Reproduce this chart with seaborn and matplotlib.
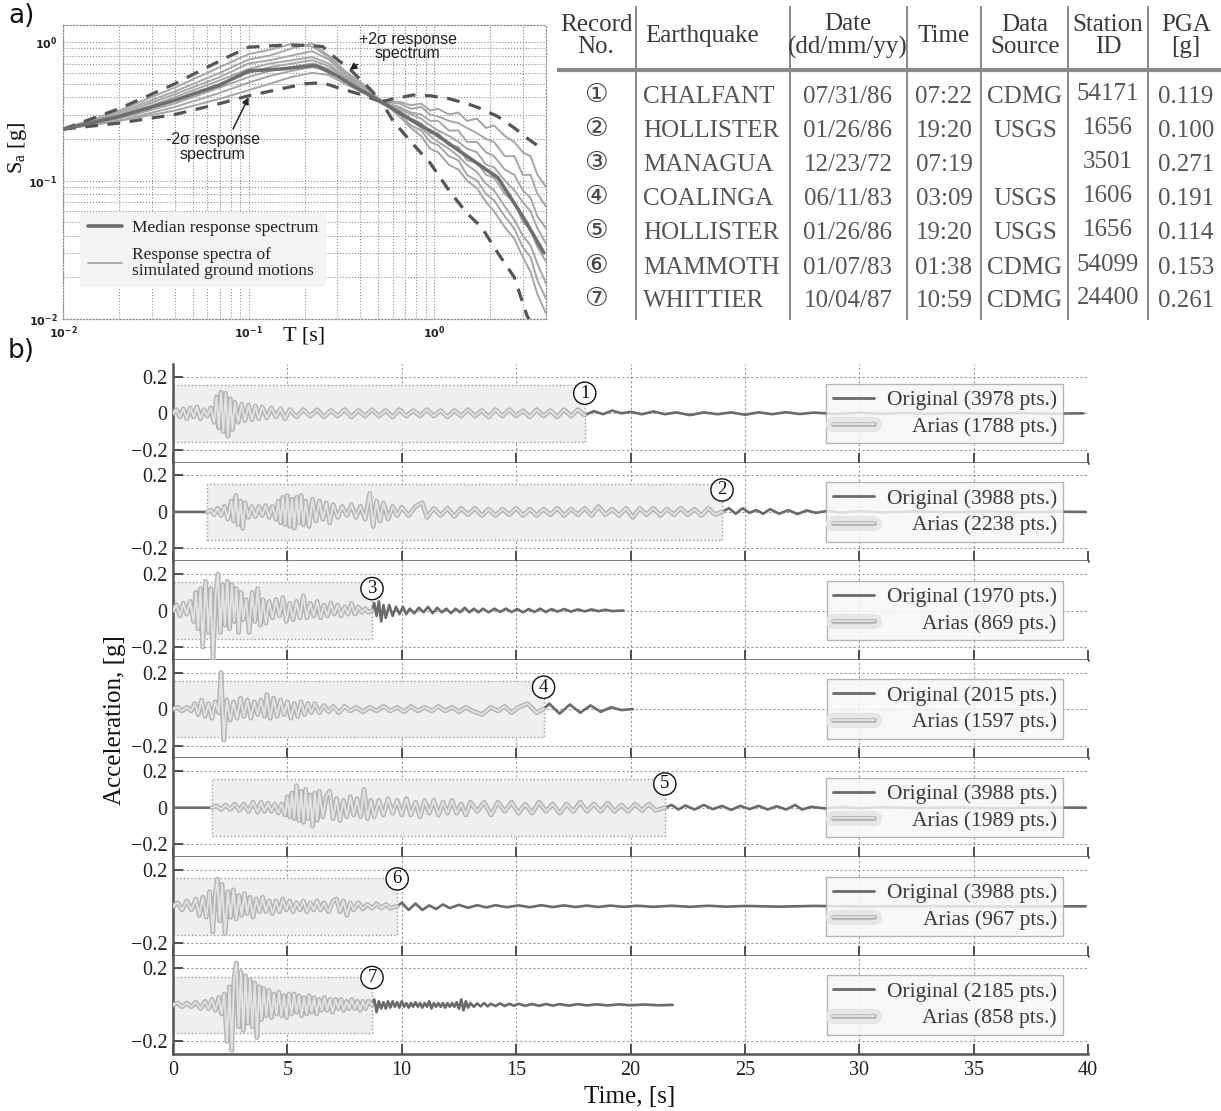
import matplotlib
matplotlib.use("Agg")
import numpy as np
import pandas as pd
import matplotlib.pyplot as plt
import seaborn as sns
from matplotlib import patheffects as pe
from matplotlib.lines import Line2D
from matplotlib.patches import Rectangle
from matplotlib.ticker import NullFormatter, LogLocator

# ---------------- data: panel a (response spectra) ----------------
periods_med = [0.01, 0.02, 0.04, 0.07, 0.1, 0.15, 0.23, 0.3, 0.4, 0.52, 0.7, 1.0, 1.5, 2.2, 3.0, 3.9]
median_sa = [0.235, 0.29, 0.38, 0.49, 0.62, 0.64, 0.68, 0.57, 0.45, 0.37, 0.29, 0.22, 0.15, 0.105, 0.055, 0.03]

periods_plus = [0.01, 0.02, 0.04, 0.06, 0.08, 0.1, 0.15, 0.2, 0.25, 0.3, 0.35, 0.45, 0.52,
                0.6, 0.77, 0.95, 1.2, 1.5, 1.8, 2.2, 2.7, 3.2, 3.9]
plus2_sa = [0.235, 0.33, 0.50, 0.66, 0.80, 0.92, 0.95, 0.95, 0.93, 0.75, 0.64, 0.46, 0.37,
            0.39, 0.415, 0.41, 0.39, 0.36, 0.33, 0.29, 0.24, 0.20, 0.166]

periods_minus = [0.01, 0.02, 0.04, 0.07, 0.1, 0.15, 0.2, 0.25, 0.3, 0.4, 0.52,
                 0.6, 0.75, 0.95, 1.2, 1.5, 1.8, 2.2, 2.7, 3.15, 3.5, 4.0]
minus2_sa = [0.235, 0.26, 0.30, 0.36, 0.41, 0.46, 0.50, 0.51, 0.47, 0.42, 0.37,
             0.27, 0.19, 0.134, 0.085, 0.058, 0.046, 0.03, 0.02, 0.0107, 0.008, 0.006]

periods_sim = [0.01, 0.02, 0.04, 0.07, 0.1, 0.13, 0.17, 0.22, 0.27, 0.33, 0.42, 0.52, 0.65, 0.75, 0.85,
               0.95, 1.05, 1.2, 1.35, 1.5, 1.7, 1.9, 2.1, 2.4, 2.7, 3.0, 3.3, 3.6, 4.0]
sim_1 = [0.235, 0.32, 0.47, 0.66, 0.82, 0.88, 0.97, 0.93, 0.78, 0.60, 0.47, 0.38, 0.37, 0.35, 0.36,
         0.32, 0.33, 0.30, 0.31, 0.27, 0.28, 0.24, 0.25, 0.21, 0.19, 0.16, 0.15, 0.11, 0.09]
sim_2 = [0.235, 0.31, 0.44, 0.60, 0.75, 0.80, 0.90, 0.98, 0.80, 0.62, 0.49, 0.37, 0.36, 0.33, 0.34,
         0.30, 0.29, 0.27, 0.26, 0.24, 0.22, 0.20, 0.19, 0.15, 0.15, 0.11, 0.11, 0.08, 0.065]
sim_3 = [0.235, 0.30, 0.42, 0.56, 0.70, 0.74, 0.80, 0.86, 0.75, 0.58, 0.46, 0.37, 0.34, 0.31, 0.30,
         0.27, 0.27, 0.23, 0.23, 0.19, 0.19, 0.16, 0.15, 0.12, 0.11, 0.085, 0.075, 0.055, 0.045]
sim_4 = [0.235, 0.29, 0.40, 0.53, 0.64, 0.70, 0.74, 0.78, 0.70, 0.56, 0.45, 0.36, 0.33, 0.30, 0.28,
         0.25, 0.23, 0.21, 0.19, 0.17, 0.16, 0.13, 0.125, 0.10, 0.085, 0.07, 0.06, 0.045, 0.035]
sim_5 = [0.235, 0.29, 0.38, 0.50, 0.60, 0.66, 0.70, 0.74, 0.67, 0.55, 0.45, 0.37, 0.32, 0.28, 0.26,
         0.22, 0.22, 0.18, 0.175, 0.14, 0.135, 0.11, 0.105, 0.08, 0.07, 0.05, 0.045, 0.033, 0.026]
sim_6 = [0.235, 0.28, 0.36, 0.47, 0.56, 0.62, 0.66, 0.70, 0.64, 0.53, 0.44, 0.36, 0.31, 0.27, 0.24,
         0.21, 0.19, 0.17, 0.15, 0.13, 0.115, 0.095, 0.085, 0.065, 0.052, 0.04, 0.034, 0.025, 0.018]
sim_7 = [0.235, 0.27, 0.34, 0.43, 0.51, 0.57, 0.62, 0.66, 0.62, 0.52, 0.44, 0.37, 0.30, 0.25, 0.23,
         0.19, 0.18, 0.15, 0.14, 0.11, 0.10, 0.08, 0.072, 0.055, 0.045, 0.033, 0.028, 0.019, 0.014]
sim_8 = [0.235, 0.27, 0.32, 0.39, 0.45, 0.50, 0.56, 0.60, 0.58, 0.50, 0.43, 0.38, 0.29, 0.24, 0.21,
         0.17, 0.16, 0.13, 0.12, 0.10, 0.088, 0.07, 0.06, 0.046, 0.038, 0.028, 0.022, 0.015, 0.011]
sim_spectra = [sim_1, sim_2, sim_3, sim_4, sim_5, sim_6, sim_7, sim_8]

# ---------------- data: table ----------------
record_no = ["①", "②", "③", "④", "⑤", "⑥", "⑦"]
quake = ["CHALFANT", "HOLLISTER", "MANAGUA", "COALINGA", "HOLLISTER", "MAMMOTH", "WHITTIER"]
dates = ["07/31/86", "01/26/86", "12/23/72", "06/11/83", "01/26/86", "01/07/83", "10/04/87"]
times = ["07:22", "19:20", "07:19", "03:09", "19:20", "01:38", "10:59"]
sources = ["CDMG", "USGS", "", "USGS", "USGS", "CDMG", "CDMG"]
stations = ["54171", "1656", "3501", "1606", "1656", "54099", "24400"]
pga = ["0.119", "0.100", "0.271", "0.191", "0.114", "0.153", "0.261"]
headers = ["Record\nNo.", "Earthquake", "Date\n(dd/mm/yy)", "Time", "Data\nSource", "Station\nID", "PGA\n[g]"]

# ---------------- data: panel b (accelerograms, (t [s], a [g]) peaks) ----------------
rec1 = [(0, 0), (0.15, 0.02), (0.3, -0.02), (0.45, 0.025), (0.6, -0.03), (0.75, 0.03), (0.9, -0.02), (1.05, 0.035),
        (1.2, -0.03), (1.35, 0.02), (1.5, -0.015), (1.65, 0.03), (1.8, -0.05), (1.9, 0.09), (2.0, -0.08), (2.1, 0.115),
        (2.2, -0.1), (2.3, 0.11), (2.4, -0.125), (2.5, 0.08), (2.6, -0.09), (2.7, 0.06), (2.85, -0.05), (3.0, 0.05),
        (3.15, -0.04), (3.3, 0.045), (3.45, -0.035), (3.6, 0.04), (3.75, -0.03), (3.9, 0.035), (4.1, -0.025), (4.3, 0.03),
        (4.5, -0.02), (4.7, 0.025), (4.9, -0.03), (5.1, 0.02), (5.4, -0.02), (5.7, 0.02), (6.0, -0.015), (6.3, 0.02),
        (6.6, -0.02), (6.9, 0.015), (7.2, -0.015), (7.5, 0.02), (7.8, -0.02), (8.1, 0.015), (8.4, -0.015), (8.7, 0.02),
        (9.0, -0.015), (9.3, 0.015), (9.6, -0.02), (9.9, 0.02), (10.2, -0.015), (10.5, 0.015), (10.8, -0.015), (11.1, 0.02),
        (11.4, -0.015), (11.7, 0.015), (12.0, -0.02), (12.3, 0.015), (12.6, -0.015), (12.9, 0.02), (13.2, -0.015),
        (13.5, 0.015), (13.8, -0.02), (14.1, 0.02), (14.4, -0.015), (14.7, 0.02), (15.0, -0.015), (15.3, 0.015),
        (15.6, -0.02), (15.9, 0.02), (16.2, -0.015), (16.5, 0.015), (16.8, -0.02), (17.1, 0.02), (17.4, -0.015),
        (17.7, 0.02), (18.0, -0.01), (18.4, 0.012), (18.8, -0.005), (19.2, 0.015), (19.6, 0.0), (20.0, 0.008),
        (20.5, -0.005), (21.0, 0.01), (21.5, -0.005), (22.0, 0.005), (22.6, -0.01), (23.2, 0.005), (23.8, -0.005),
        (24.4, 0.005), (25.0, -0.008), (25.6, 0.005), (26.2, -0.005), (26.8, 0.006), (27.4, -0.004), (28.0, 0.004),
        (29.0, -0.004), (30.0, 0.004), (31.0, -0.003), (32.0, 0.003), (33.0, -0.003), (34.0, 0.003), (35.5, -0.002),
        (37.0, 0.002), (38.5, -0.002), (39.8, 0.0)]
rec2 = [(0, 0), (1.5, 0), (1.65, 0.01), (1.8, -0.015), (1.95, 0.02), (2.1, -0.02), (2.25, 0.03), (2.4, -0.04),
        (2.55, 0.06), (2.65, -0.05), (2.75, 0.09), (2.85, -0.07), (2.95, 0.06), (3.05, -0.09), (3.15, 0.05), (3.3, -0.03),
        (3.45, 0.03), (3.6, -0.025), (3.75, 0.03), (3.9, -0.02), (4.05, 0.035), (4.2, -0.03), (4.35, 0.03), (4.5, -0.04),
        (4.6, 0.06), (4.7, -0.06), (4.8, 0.08), (4.9, -0.07), (5.0, 0.09), (5.1, -0.08), (5.2, 0.07), (5.3, -0.09),
        (5.4, 0.08), (5.5, -0.06), (5.6, 0.09), (5.7, -0.07), (5.8, 0.06), (5.95, -0.08), (6.1, 0.07), (6.25, -0.05),
        (6.4, 0.06), (6.55, -0.04), (6.7, 0.05), (6.85, -0.06), (7.0, 0.04), (7.2, -0.03), (7.4, 0.03), (7.6, -0.02),
        (7.8, 0.04), (8.0, -0.03), (8.2, 0.03), (8.4, -0.04), (8.6, 0.1), (8.75, -0.08), (8.9, 0.06), (9.05, -0.05),
        (9.2, 0.05), (9.4, -0.04), (9.6, 0.03), (9.8, -0.02), (10.0, 0.025), (10.3, -0.02), (10.6, 0.03), (10.9, 0.05),
        (11.1, -0.03), (11.4, 0.02), (11.7, -0.02), (12.0, 0.02), (12.3, -0.025), (12.6, 0.02), (12.9, -0.015),
        (13.2, 0.02), (13.5, -0.02), (13.8, 0.015), (14.1, -0.02), (14.4, 0.015), (14.7, -0.015), (15.0, 0.02),
        (15.3, -0.02), (15.6, 0.015), (15.9, -0.02), (16.2, 0.015), (16.5, -0.015), (16.8, 0.02), (17.1, -0.02),
        (17.4, 0.015), (17.7, -0.015), (18.0, 0.02), (18.3, -0.02), (18.6, 0.03), (18.9, -0.015), (19.2, 0.015),
        (19.5, -0.02), (19.8, 0.02), (20.1, -0.03), (20.4, 0.02), (20.7, -0.015), (21.0, 0.02), (21.3, -0.02),
        (21.6, 0.015), (21.9, -0.015), (22.2, 0.02), (22.5, -0.015), (22.8, 0.015), (23.1, -0.02), (23.4, 0.02),
        (23.7, -0.015), (24.0, 0.0), (24.3, 0.02), (24.6, -0.01), (24.9, 0.02), (25.2, -0.005), (25.5, 0.01),
        (25.8, -0.01), (26.1, 0.015), (26.5, -0.01), (26.9, 0.01), (27.3, -0.012), (27.7, 0.008), (28.1, -0.005),
        (28.6, 0.005), (29.2, -0.004), (30.0, 0.004), (31.0, -0.003), (32.5, 0.003), (34.0, -0.002), (35.5, 0.002),
        (37.0, -0.002), (38.5, 0.001), (39.9, 0.0)]
rec3 = [(0, 0), (0.15, 0.03), (0.3, -0.03), (0.45, 0.04), (0.6, -0.02), (0.75, 0.05), (0.9, -0.06), (1.0, 0.1),
        (1.1, -0.1), (1.2, 0.12), (1.3, -0.2), (1.42, 0.16), (1.55, -0.12), (1.65, 0.12), (1.75, -0.27), (1.87, 0.1),
        (1.97, 0.2), (2.07, -0.12), (2.17, 0.14), (2.27, -0.08), (2.37, 0.16), (2.47, -0.1), (2.57, 0.14), (2.67, -0.06),
        (2.77, 0.12), (2.87, -0.12), (2.97, 0.1), (3.07, -0.05), (3.2, 0.06), (3.33, -0.12), (3.46, 0.1), (3.58, -0.06),
        (3.7, 0.12), (3.82, -0.08), (3.94, 0.06), (4.06, -0.07), (4.2, 0.05), (4.35, -0.04), (4.5, 0.06), (4.65, -0.03),
        (4.8, 0.07), (4.95, -0.06), (5.1, 0.04), (5.25, -0.05), (5.4, 0.05), (5.55, -0.04), (5.7, 0.08), (5.85, -0.04),
        (6.0, 0.04), (6.15, -0.03), (6.3, 0.05), (6.45, -0.04), (6.6, 0.03), (6.75, -0.03), (6.9, 0.04), (7.05, -0.02),
        (7.2, 0.03), (7.35, -0.03), (7.5, 0.02), (7.65, -0.02), (7.8, 0.04), (7.95, -0.02), (8.1, 0.02), (8.25, -0.01),
        (8.4, 0.01), (8.55, -0.01), (8.7, 0.0), (8.8, 0.04), (8.9, -0.03), (9.0, 0.05), (9.1, -0.06), (9.2, 0.03),
        (9.3, -0.04), (9.45, 0.03), (9.6, -0.03), (9.75, 0.02), (9.9, -0.02), (10.05, 0.02), (10.2, -0.02), (10.35, 0.01),
        (10.55, -0.015), (10.75, 0.015), (10.95, -0.01), (11.15, 0.02), (11.35, -0.015), (11.55, 0.015), (11.75, -0.01),
        (11.95, 0.01), (12.15, -0.015), (12.35, 0.01), (12.55, -0.01), (12.75, 0.015), (12.95, -0.01), (13.15, 0.01),
        (13.35, -0.01), (13.55, 0.01), (13.8, -0.01), (14.05, 0.01), (14.3, -0.008), (14.55, 0.01), (14.8, -0.008),
        (15.05, 0.008), (15.3, -0.01), (15.55, 0.008), (15.8, -0.008), (16.05, 0.01), (16.3, -0.008), (16.55, 0.008),
        (16.8, -0.006), (17.1, 0.008), (17.4, -0.006), (17.7, 0.006), (18.0, -0.005), (18.3, 0.006), (18.6, -0.004),
        (18.9, 0.004), (19.2, -0.003), (19.7, 0.0)]
rec4 = [(0, 0), (0.2, 0.01), (0.4, -0.01), (0.6, 0.01), (0.8, -0.01), (0.95, 0.03), (1.1, -0.03), (1.25, 0.05),
        (1.4, -0.04), (1.55, 0.03), (1.7, -0.05), (1.85, 0.04), (2.0, -0.02), (2.1, 0.2), (2.22, -0.17), (2.35, 0.05),
        (2.5, -0.06), (2.65, 0.04), (2.8, -0.05), (2.95, 0.06), (3.1, -0.04), (3.25, 0.05), (3.4, -0.05), (3.55, 0.04),
        (3.7, -0.03), (3.85, 0.05), (4.0, -0.04), (4.1, 0.08), (4.25, -0.05), (4.4, 0.06), (4.55, -0.04), (4.7, 0.05),
        (4.85, -0.03), (5.0, 0.04), (5.15, -0.05), (5.3, 0.03), (5.45, -0.04), (5.6, 0.04), (5.75, -0.03), (5.9, 0.03),
        (6.05, -0.02), (6.2, 0.03), (6.4, -0.02), (6.6, 0.02), (6.8, -0.015), (7.0, 0.015), (7.25, -0.02), (7.5, 0.015),
        (7.75, -0.01), (8.0, 0.01), (8.3, -0.015), (8.6, 0.01), (8.9, -0.01), (9.2, 0.015), (9.5, -0.01), (9.8, 0.01),
        (10.1, -0.015), (10.4, 0.015), (10.7, -0.01), (11.0, 0.01), (11.3, -0.01), (11.6, 0.015), (11.9, -0.01),
        (12.2, 0.01), (12.5, -0.015), (12.8, 0.01), (13.1, -0.01), (13.5, -0.03), (13.9, 0.01), (14.2, -0.01),
        (14.5, 0.015), (14.8, -0.02), (15.1, 0.01), (15.5, 0.03), (15.9, -0.02), (16.2, 0.0), (16.45, 0.03),
        (16.9, -0.025), (17.35, 0.025), (17.8, -0.02), (18.25, 0.02), (18.7, -0.015), (19.15, 0.01), (19.6, -0.005),
        (20.1, 0.0)]
rec5 = [(0, 0), (1.7, 0), (1.9, 0.01), (2.1, -0.01), (2.3, 0.015), (2.5, -0.01), (2.7, 0.02), (2.9, -0.015),
        (3.1, 0.02), (3.3, -0.02), (3.5, 0.03), (3.7, -0.025), (3.85, 0.03), (4.0, -0.02), (4.15, 0.025), (4.3, -0.02),
        (4.45, 0.02), (4.6, -0.03), (4.75, 0.02), (4.9, -0.04), (5.0, 0.06), (5.1, -0.05), (5.2, 0.08), (5.3, -0.06),
        (5.4, 0.12), (5.5, -0.07), (5.6, 0.09), (5.7, -0.08), (5.8, 0.1), (5.9, -0.06), (6.0, 0.07), (6.1, -0.1),
        (6.2, 0.08), (6.3, -0.07), (6.4, 0.09), (6.55, -0.05), (6.7, 0.06), (6.85, 0.09), (7.0, -0.06), (7.15, 0.05),
        (7.3, -0.07), (7.45, 0.04), (7.6, -0.05), (7.75, 0.06), (7.9, -0.04), (8.05, 0.05), (8.2, -0.05), (8.35, 0.1),
        (8.5, -0.06), (8.65, 0.04), (8.8, -0.05), (9.0, 0.04), (9.2, -0.04), (9.4, 0.05), (9.6, -0.03), (9.8, 0.04),
        (10.0, -0.04), (10.2, 0.05), (10.4, -0.04), (10.6, 0.03), (10.8, -0.05), (11.0, 0.04), (11.2, -0.03),
        (11.4, 0.04), (11.6, -0.04), (11.8, 0.03), (12.0, -0.03), (12.2, 0.04), (12.4, -0.03), (12.6, 0.02),
        (12.8, -0.04), (13.0, 0.03), (13.3, -0.02), (13.6, 0.03), (13.9, -0.04), (14.2, 0.03), (14.5, -0.02),
        (14.8, 0.03), (15.1, -0.03), (15.4, 0.02), (15.7, -0.03), (16.0, 0.03), (16.3, -0.02), (16.6, 0.02),
        (16.9, -0.03), (17.2, 0.02), (17.5, -0.02), (17.8, 0.03), (18.1, -0.02), (18.4, 0.02), (18.7, -0.02),
        (19.0, 0.025), (19.3, -0.02), (19.6, 0.015), (19.9, -0.02), (20.2, 0.02), (20.5, -0.015), (20.8, 0.02),
        (21.1, -0.015), (21.5, 0.0), (21.8, 0.015), (22.1, -0.01), (22.4, 0.012), (22.8, -0.01), (23.2, 0.015),
        (23.6, -0.008), (24.0, 0.01), (24.4, -0.012), (24.8, 0.01), (25.2, -0.008), (25.6, 0.01), (26.0, -0.01),
        (26.4, 0.008), (26.8, -0.01), (27.2, 0.015), (27.5, -0.01), (27.9, 0.005), (28.5, -0.004), (29.2, 0.004),
        (30.0, -0.003), (31.0, 0.003), (32.5, -0.002), (34.0, 0.002), (36.0, -0.002), (38.0, 0.001), (39.9, 0.0)]
rec6 = [(0, 0), (0.2, 0.02), (0.4, -0.02), (0.6, 0.03), (0.8, -0.02), (1.0, 0.04), (1.15, -0.05), (1.3, 0.05),
        (1.45, -0.06), (1.6, 0.08), (1.74, -0.14), (1.84, 0.06), (1.94, 0.15), (2.04, -0.08), (2.14, 0.12),
        (2.28, -0.15), (2.4, 0.08), (2.52, -0.06), (2.64, 0.09), (2.76, -0.07), (2.88, 0.06), (3.0, -0.05), (3.12, 0.07),
        (3.24, -0.04), (3.36, 0.05), (3.5, -0.06), (3.64, 0.04), (3.78, -0.03), (3.92, 0.05), (4.06, -0.03), (4.2, 0.03),
        (4.35, -0.04), (4.5, 0.03), (4.65, -0.03), (4.8, 0.04), (4.95, -0.02), (5.1, 0.03), (5.25, -0.03), (5.4, 0.02),
        (5.55, -0.02), (5.7, 0.03), (5.85, -0.03), (6.0, 0.02), (6.15, -0.02), (6.3, 0.03), (6.45, -0.02), (6.6, 0.02),
        (6.8, -0.03), (7.0, 0.03), (7.15, 0.04), (7.3, -0.03), (7.45, 0.03), (7.6, -0.05), (7.75, 0.02), (7.9, -0.02),
        (8.1, 0.02), (8.3, -0.015), (8.5, 0.01), (8.7, -0.01), (8.9, 0.015), (9.1, -0.01), (9.3, 0.01), (9.5, -0.01),
        (9.8, 0.0), (10.0, 0.02), (10.3, -0.02), (10.6, 0.015), (10.9, -0.02), (11.2, 0.005), (11.5, -0.015),
        (11.8, 0.01), (12.1, -0.01), (12.5, 0.008), (12.9, -0.008), (13.3, 0.006), (13.7, -0.006), (14.1, 0.006),
        (14.6, -0.005), (15.1, 0.005), (15.6, -0.005), (16.1, 0.006), (16.6, -0.004), (17.1, 0.005), (17.6, -0.004),
        (18.1, 0.004), (18.6, -0.004), (19.1, 0.004), (19.7, -0.003), (20.3, 0.003), (21.0, -0.003), (21.8, 0.003),
        (22.6, -0.003), (23.4, 0.003), (24.2, -0.002), (25.0, 0.002), (26.5, -0.002), (28.0, 0.002), (30.0, -0.001),
        (33.0, 0.001), (36.0, -0.001), (39.9, 0.0)]
rec7 = [(0, 0), (0.2, 0.01), (0.4, -0.01), (0.6, 0.01), (0.8, -0.01), (1.0, 0.015), (1.2, -0.02), (1.4, 0.02),
        (1.55, -0.02), (1.7, 0.03), (1.85, -0.03), (2.0, 0.04), (2.12, -0.05), (2.24, 0.06), (2.36, -0.2), (2.47, 0.1),
        (2.57, -0.25), (2.67, 0.15), (2.77, 0.23), (2.87, -0.12), (2.97, 0.18), (3.07, -0.14), (3.17, 0.16),
        (3.27, -0.1), (3.37, 0.14), (3.47, -0.12), (3.57, 0.12), (3.67, -0.18), (3.77, 0.1), (3.87, -0.08), (3.97, 0.09),
        (4.08, -0.06), (4.19, 0.08), (4.3, -0.07), (4.41, 0.06), (4.52, -0.05), (4.63, 0.07), (4.74, -0.06), (4.85, 0.05),
        (4.96, -0.07), (5.07, 0.06), (5.18, -0.05), (5.29, 0.06), (5.4, -0.04), (5.51, 0.05), (5.62, -0.06), (5.73, 0.04),
        (5.84, -0.05), (5.95, 0.05), (6.06, -0.04), (6.17, 0.04), (6.28, -0.05), (6.39, 0.03), (6.5, -0.03), (6.62, 0.04),
        (6.74, -0.03), (6.86, 0.03), (6.98, -0.04), (7.1, 0.03), (7.22, -0.02), (7.34, 0.03), (7.46, -0.03), (7.58, 0.02),
        (7.7, -0.02), (7.82, 0.03), (7.94, -0.02), (8.06, 0.02), (8.18, -0.03), (8.3, 0.02), (8.42, -0.02), (8.54, 0.02),
        (8.7, 0.0), (8.8, 0.03), (8.9, -0.04), (9.0, 0.02), (9.1, -0.02), (9.2, 0.015), (9.3, -0.02), (9.4, 0.02),
        (9.5, -0.015), (9.6, 0.02), (9.7, -0.01), (9.8, 0.015), (9.9, -0.015), (10.0, 0.02), (10.1, -0.01), (10.2, 0.01),
        (10.3, -0.015), (10.4, 0.01), (10.5, -0.01), (10.6, 0.015), (10.7, -0.01), (10.8, 0.01), (10.9, -0.015),
        (11.0, 0.01), (11.1, -0.01), (11.2, 0.02), (11.3, -0.02), (11.4, 0.01), (11.5, -0.01), (11.6, 0.01),
        (11.7, -0.01), (11.8, 0.01), (11.9, -0.015), (12.0, 0.01), (12.1, -0.01), (12.2, 0.01), (12.3, -0.01),
        (12.4, 0.015), (12.5, -0.02), (12.6, 0.03), (12.7, -0.03), (12.8, 0.02), (12.9, -0.015), (13.0, 0.01),
        (13.15, -0.01), (13.3, 0.008), (13.45, -0.008), (13.6, 0.01), (13.75, -0.008), (13.9, 0.006), (14.1, -0.006),
        (14.3, 0.008), (14.5, -0.006), (14.7, 0.006), (14.9, -0.005), (15.1, 0.006), (15.4, -0.005), (15.7, 0.005),
        (16.0, -0.005), (16.3, 0.005), (16.6, -0.004), (16.9, 0.004), (17.3, -0.004), (17.7, 0.004), (18.1, -0.003),
        (18.5, 0.003), (19.0, -0.003), (19.5, 0.003), (20.0, -0.002), (20.6, 0.002), (21.2, -0.002), (21.85, 0.0)]
records = [rec1, rec2, rec3, rec4, rec5, rec6, rec7]
arias_start = [0.0, 1.5, 0.0, 0.0, 1.7, 0.0, 0.0]
arias_end = [18.0, 24.0, 8.7, 16.2, 21.5, 9.8, 8.7]
orig_pts = [3978, 3988, 1970, 2015, 3988, 3988, 2185]
arias_pts = [1788, 2238, 869, 1597, 1989, 967, 858]
mark_y = [0.11, 0.12, 0.12, 0.12, 0.13, 0.15, 0.15]
time_ticks = [0, 5, 10, 15, 20, 25, 30, 35, 40]

# ---------------- styling ----------------
sns.set_theme(style="ticks")
plt.rcParams["font.family"] = ["Liberation Serif", "DejaVu Sans"]
plt.rcParams["axes.unicode_minus"] = True
plt.rcParams["mathtext.fontset"] = "dejavusans"

W, H = 1221, 1111
fig = plt.figure(figsize=(W / 100, H / 100), dpi=100)

MED_C = "#6e6e6e"
DASH_C = "#555555"
SIM_C = "#a6a6a6"
ORIG_C = "#6a6a6a"
ARIAS_IN = "#e2e2e2"
ARIAS_OUT = "#b3b3b3"
GRID_C = "#8e8e8e"

# ---------------- panel a ----------------
axA = fig.add_axes([63 / W, 1 - 319 / H, (546 - 63) / W, (319 - 25) / H])
axA.set_xscale("log")
axA.set_yscale("log")
for s in sim_spectra:
    sns.lineplot(x=periods_sim, y=s, ax=axA, color=SIM_C, lw=1.4, sort=False, estimator=None, zorder=2)
sns.lineplot(x=periods_plus, y=plus2_sa, ax=axA, color=DASH_C, lw=2.3, sort=False, estimator=None,
             linestyle=(0, (4, 3)), zorder=3)
sns.lineplot(x=periods_minus, y=minus2_sa, ax=axA, color=DASH_C, lw=2.3, sort=False, estimator=None,
             linestyle=(0, (4, 3)), zorder=3)
sns.lineplot(x=periods_med, y=median_sa, ax=axA, color=MED_C, lw=2.6, sort=False, estimator=None, zorder=4)
axA.set_xlim(0.01, 4.0)
axA.set_ylim(0.01, 1.33)
axA.xaxis.set_minor_locator(LogLocator(base=10, subs=np.arange(2, 10)))
axA.yaxis.set_minor_locator(LogLocator(base=10, subs=np.arange(2, 10)))
axA.xaxis.set_minor_formatter(NullFormatter())
axA.yaxis.set_minor_formatter(NullFormatter())
axA.grid(True, which="both", ls=":", color=GRID_C, lw=0.8)
for sp in axA.spines.values():
    sp.set_linestyle(":")
    sp.set_color(GRID_C)
    sp.set_linewidth(0.9)
axA.tick_params(which="both", length=0, labelsize=8, pad=4, colors="#222")
for lab in axA.get_xticklabels() + axA.get_yticklabels():
    lab.set_fontweight("bold")
    lab.set_family("DejaVu Sans")
axA.set_xlabel("T [s]", fontsize=16, color="#111")
axA.xaxis.set_label_coords(0.5, -0.025)
axA.set_ylabel(r"S$_\mathregular{a}$ [g]", fontsize=16, color="#111")
axA.yaxis.set_label_coords(-0.07, 0.58)

axA.annotate("+2σ response\nspectrum", xy=(0.35, 0.63), xytext=(0.72, 0.93), ha="center", va="center",
             fontsize=11.5, family="Liberation Sans", color="#222", linespacing=0.95,
             arrowprops=dict(arrowstyle="-|>", color="#222", lw=1.1, shrinkA=0, shrinkB=0,
                             relpos=(0.12, 0.2), mutation_scale=10), zorder=6)
axA.annotate("-2σ response\nspectrum", xy=(0.1, 0.40), xytext=(0.064, 0.175), ha="center", va="center",
             fontsize=11.5, family="Liberation Sans", color="#222", linespacing=0.95,
             arrowprops=dict(arrowstyle="-|>", color="#222", lw=1.1, shrinkA=0, shrinkB=0,
                             relpos=(0.7, 1.0), mutation_scale=10), zorder=6)

h_med = Line2D([], [], color=MED_C, lw=2.6)
h_sim = Line2D([], [], color=SIM_C, lw=1.3)
legA = axA.legend([h_med, h_sim], ["Median response spectrum", "Response spectra of\nsimulated ground motions"],
                  loc="lower left", bbox_to_anchor=(0.035, 0.11), borderaxespad=0, fontsize=12.5,
                  frameon=True, fancybox=False, facecolor="#f4f4f4", edgecolor="none", framealpha=1,
                  handlelength=1.95, handletextpad=0.6, labelspacing=0.6, borderpad=0.45)
for t in legA.get_texts():
    t.set_color("#222")
    t.set_linespacing(1.0)

fig.text(8 / W, 1 - 3 / H, "a)", family="DejaVu Sans", fontsize=19, va="top", ha="left", color="#111")
fig.text(8 / W, 1 - 338 / H, "b)", family="DejaVu Sans", fontsize=19, va="top", ha="left", color="#111")

# ---------------- table ----------------
tab = fig.add_axes([555 / W, 1 - 325 / H, (W - 555) / W, 325 / H])
tab.set_xlim(555, W)
tab.set_ylim(325, 0)
tab.axis("off")
col_x = [596, 643, 848, 944, 1025, 1108, 1186]
col_ha = ["center", "left", "center", "center", "center", "center", "center"]
hdr_x = [596, 645, 848, 944, 1025, 1108, 1186]
for x, ha, h in zip(hdr_x, col_ha, headers):
    tab.text(x, 36, h, ha=ha, va="center", fontsize=18, color="#3a3a3a", linespacing=1.0)
for xs in [636, 790, 907, 981, 1068, 1148]:
    tab.plot([xs, xs], [6, 320], color="#8a8a8a", lw=1.4, solid_capstyle="butt")
tab.plot([557, W], [70, 70], color="#8a8a8a", lw=3.0, solid_capstyle="butt")
row_y = [97, 131, 165, 199, 233, 268, 301]
columns = [record_no, quake, dates, times, sources, stations, pga]
for ci, (x, ha, col) in enumerate(zip(col_x, col_ha, columns)):
    for y, val in zip(row_y, col):
        if ci == 0:
            tab.text(x, y - 2, val, ha="center", va="center", fontsize=19, color="#444",
                     family=["DejaVu Sans", "Noto Sans CJK JP"])
        else:
            dy = -3 if ci == 5 else 0
            tab.text(x, y + dy, val, ha=ha, va="center", fontsize=18, color="#555")

# ---------------- panel b ----------------
panel_top, panel_h = 364.0, 98.6
win_half = 0.155
legends_b = []
for i in range(7):
    top = panel_top + panel_h * i
    ax = fig.add_axes([173 / W, 1 - (top + panel_h) / H, (1088 - 173) / W, panel_h / H])
    df = pd.DataFrame(records[i], columns=["t", "a"])
    ax.add_patch(Rectangle((arias_start[i], -win_half), arias_end[i] - arias_start[i], 2 * win_half,
                           facecolor="#efefef", edgecolor="#9c9c9c", linestyle=":", lw=1.0, zorder=1))
    sns.lineplot(data=df, x="t", y="a", ax=ax, color=ORIG_C, lw=1.9, sort=False, estimator=None, zorder=3)
    sub = df[(df.t >= arias_start[i]) & (df.t <= arias_end[i])]
    sns.lineplot(data=sub, x="t", y="a", ax=ax, color=ARIAS_IN, lw=1.4, sort=False, estimator=None, zorder=4,
                 path_effects=[pe.Stroke(linewidth=3.4, foreground=ARIAS_OUT), pe.Normal()])
    ax.text(arias_end[i], mark_y[i], str(i + 1), ha="center", va="center", fontsize=13.5, color="#111", zorder=7,
            bbox=dict(boxstyle="circle,pad=0.14", fc="white", ec="#111", lw=1.0))
    ax.set_xlim(0, 40)
    ax.set_ylim(-0.27, 0.27)
    ax.set_xticks(time_ticks)
    if i < 5:
        ax.set_yticks([-0.2, 0, 0.2])
        ax.set_yticklabels(["−0.2", "0", "0.2"])
    else:
        ax.set_yticks([-0.2, 0.2])
        ax.set_yticklabels(["−0.2", "0.2"])
    ax.grid(True, ls=(0, (2, 2)), color="#9a9a9a", lw=0.8)
    ax.set_xlabel("")
    ax.set_ylabel("")
    for side in ["top", "right"]:
        ax.spines[side].set_visible(False)
    for side in ["left", "bottom"]:
        ax.spines[side].set_color("#555")
        ax.spines[side].set_linewidth(1.8)
    ax.tick_params(direction="in", length=7, width=1.3, color="#444", labelsize=14.5, labelcolor="#222", pad=4)
    ax.tick_params(axis="x", labelbottom=(i == 6), pad=5)
    h_orig = Line2D([], [], color=ORIG_C, lw=2.0)
    h_ar = Line2D([], [], color=ARIAS_IN, lw=1.4,
                  path_effects=[pe.Stroke(linewidth=11, foreground="#e6e6e6"),
                                pe.Stroke(linewidth=3.4, foreground=ARIAS_OUT), pe.Normal()])
    leg = ax.legend([h_orig, h_ar], [f"Original ({orig_pts[i]} pts.)", f"Arias ({arias_pts[i]} pts.)"],
                    loc="center right", bbox_to_anchor=(0.973, 0.5), borderaxespad=0, fontsize=15.5,
                    frameon=True, fancybox=False, framealpha=0.82, facecolor="#f7f7f7", edgecolor="#a6a6a6",
                    handlelength=1.9, handletextpad=0.6, labelspacing=0.3, borderpad=0.3)
    leg.get_frame().set_linewidth(1.0)
    leg.set_zorder(8)
    for t in leg.get_texts():
        t.set_color("#3a3a3a")
    legends_b.append(leg)

fig.text(115 / W, 1 - 720 / H, "Acceleration, [g]", rotation=90, ha="center", va="center", fontsize=18,
         color="#111")
fig.text(630 / W, 1 - 1097 / H, "Time, [s]", ha="center", va="center", fontsize=18, color="#111")

# right-align legend labels while keeping handles on the left
fig.canvas.draw()
try:
    renderer = fig.canvas.get_renderer()
    for leg in legends_b:
        texts = leg.get_texts()
        widths = [t.get_window_extent(renderer).width for t in texts]
        mw = max(widths)
        col = leg._legend_handle_box.get_children()[0]
        for item, w in zip(col.get_children(), widths):
            item.sep = item.sep + (mw - w) * 72.0 / fig.dpi
except Exception:
    pass

fig.savefig("out.png", dpi=100)
